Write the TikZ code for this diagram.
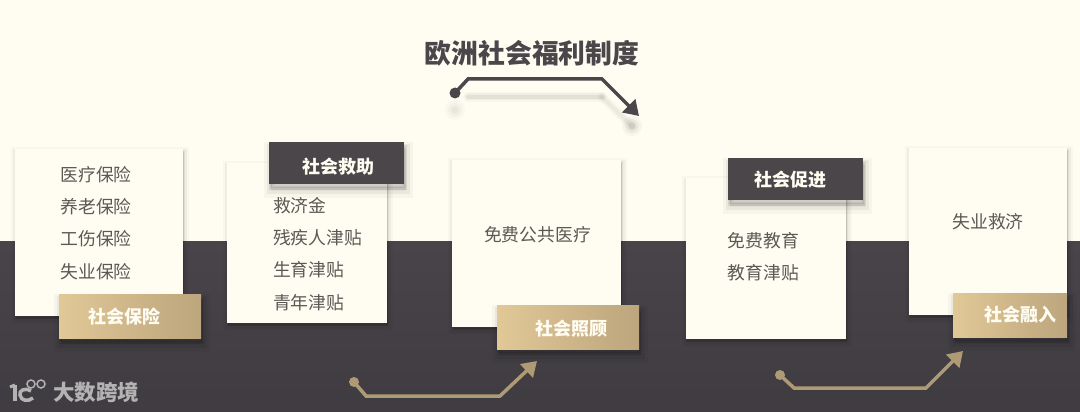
\documentclass[tikz,border=0pt]{standalone}
\usepackage{fontspec}
\usepackage{tikz}
\usetikzlibrary{shapes,arrows.meta,positioning,calc,shadows}
\setmainfont{Noto Sans CJK SC}
\definecolor{creambg}{HTML}{FFFCF1}
\definecolor{darkbg}{HTML}{48444A}
\definecolor{darktag}{HTML}{4A464A}
\definecolor{goldline}{HTML}{AE9A74}
\definecolor{bodytext}{HTML}{5C5856}
\definecolor{logogray}{HTML}{B4B2B3}
\definecolor{tagleft}{HTML}{E0C897}
\definecolor{tagright}{HTML}{BDA57D}
\tikzset{
  softshadow/.style={
    general shadow={fill=black,draw=black,line width=10pt,opacity=0.025,shadow xshift=1pt,shadow yshift=-3pt},
    general shadow={fill=black,draw=black,line width=6pt,opacity=0.04,shadow xshift=1pt,shadow yshift=-3pt},
    general shadow={fill=black,draw=black,line width=2pt,opacity=0.06,shadow xshift=1pt,shadow yshift=-2pt}},
  tagshadow/.style={
    general shadow={fill=black,draw=black,line width=14pt,opacity=0.03,shadow xshift=2pt,shadow yshift=-7pt},
    general shadow={fill=black,draw=black,line width=8pt,opacity=0.05,shadow xshift=2pt,shadow yshift=-6pt},
    general shadow={fill=black,draw=black,line width=3pt,opacity=0.08,shadow xshift=1pt,shadow yshift=-4pt}},
  cardbox/.style={rectangle,fill=creambg,inner sep=0pt,softshadow},
  goldtag/.style={rectangle,inner sep=0pt,left color=tagleft,right color=tagright,tagshadow},
  darkbox/.style={rectangle,inner sep=0pt,fill=darktag,tagshadow},
  tagtext/.style={text=creambg,font=\fontsize{18}{18}\selectfont\bfseries},
  listtext/.style={text=bodytext,align=left,inner sep=0pt,font=\fontsize{17.8}{32.3}\selectfont},
  flowline/.style={line width=3.5pt,-{Triangle[length=14.5pt,width=18pt]}},
  blurline/.style={black,line cap=round,line join=round}
}
\begin{document}
\begin{tikzpicture}[x=1pt,y=-1pt]
\useasboundingbox (0,0) rectangle (1080,412);

% Background
\fill[creambg] (0,0) rectangle (1080,241.5);
\shade[top color=darkbg,bottom color=darkbg!88!black] (0,241.5) rectangle (1080,412);

% Title and its arrow
\node[text=darktag,inner sep=0pt,font=\fontsize{26.8}{28}\selectfont\bfseries] (title) at (532,53) {欧洲社会福利制度};
\node[circle,fill=darktag,inner sep=0pt,minimum size=11pt] (titledot) at (455,93) {};
\coordinate (titlebendA) at (468,79);
\coordinate (titlebendB) at (602,79);
\coordinate (titletip) at (639,116);
\coordinate (shadowA) at (455,110);
\coordinate (shadowB) at (468,97);
\coordinate (shadowC) at (602,97);
\coordinate (shadowD) at (632,126);
\foreach \w/\o in {10/0.025,7/0.035,4/0.05}{
  \draw[blurline,opacity=\o,line width=\w pt] (shadowB) -- (shadowC);
  \draw[blurline,opacity=\o*0.7,line width=\w pt] (shadowC) -- (shadowD);
  \fill[black,opacity=\o*1.2] (shadowD) circle (\w pt);
  \fill[black,opacity=\o*0.8] (shadowA) circle (\w pt);
}
\draw[flowline,darktag] (titledot.center) -- (titlebendA) -- (titlebendB) -- (titletip);

% Cards
\node[cardbox,minimum width=168pt,minimum height=167pt] (card1) at (99,232.5) {};
\node[cardbox,minimum width=160pt,minimum height=160pt] (card2) at (307,243) {};
\node[cardbox,minimum width=169pt,minimum height=167pt] (card3) at (536.5,243.5) {};
\node[cardbox,minimum width=160pt,minimum height=161pt] (card4) at (766,258.5) {};
\node[cardbox,minimum width=158pt,minimum height=167pt] (card5) at (988,231.5) {};

% Card texts
\node[listtext] (list1) at (96,223) {医疗保险\\养老保险\\工伤保险\\失业保险};
\node[listtext] (list2) at (317.5,254) {救济金\\残疾人津贴\\生育津贴\\青年津贴};
\node[listtext] (list3) at (537.5,235) {免费公共医疗};
\node[listtext] (list4) at (763.5,256.5) {免费教育\\教育津贴};
\node[listtext] (list5) at (988,222) {失业救济};

% Tags
\node[goldtag,minimum width=142pt,minimum height=44pt] (tag1) at (130,316) {};
\node[darkbox,minimum width=135pt,minimum height=42pt] (tag2) at (336.5,163) {};
\node[goldtag,minimum width=142pt,minimum height=44pt] (tag3) at (568,327) {};
\node[darkbox,minimum width=135pt,minimum height=42pt] (tag4) at (795.5,179) {};
\node[goldtag,minimum width=114pt,minimum height=44pt] (tag5) at (1010,315) {};
\node[tagtext] (tag1text) at (124,317) {社会保险};
\node[tagtext] (tag2text) at (338,166.5) {社会救助};
\node[tagtext] (tag3text) at (571,329) {社会照顾};
\node[tagtext] (tag4text) at (790.5,179.5) {社会促进};
\node[tagtext] (tag5text) at (1020,314.5) {社会融入};

% Lower arrows
\node[circle,fill=goldline,inner sep=0pt,minimum size=10pt] (golddotA) at (354,382) {};
\coordinate (goldbendA) at (366,396);
\coordinate (goldbendB) at (500,396);
\coordinate (goldtipA) at (537,361);
\draw[flowline,goldline] (golddotA.center) -- (goldbendA) -- (goldbendB) -- (goldtipA);

\node[circle,fill=goldline,inner sep=0pt,minimum size=10pt] (golddotB) at (780,375) {};
\coordinate (goldbendC) at (794,388);
\coordinate (goldbendD) at (926,388);
\coordinate (goldtipB) at (963,351);
\draw[flowline,goldline] (golddotB.center) -- (goldbendC) -- (goldbendD) -- (goldtipB);

% Logo
\draw[logogray,line width=3.5pt] (15,385) -- (15,401);
\draw[logogray,line width=3pt] (10,387) -- (15,385);
\draw[logogray,line width=3.5pt] (31,391) .. controls (24,387) and (19,391) .. (20,395) .. controls (21,401) and (28,402) .. (33,398);
\draw[logogray,line width=1.5pt] (31,384) circle (4pt);
\draw[logogray,line width=1.5pt] (41,384) circle (4pt);
\node[text=logogray,inner sep=0pt,font=\fontsize{21.5}{22}\selectfont\bfseries] (logotext) at (96,392.5) {大数跨境};

\end{tikzpicture}
\end{document}
